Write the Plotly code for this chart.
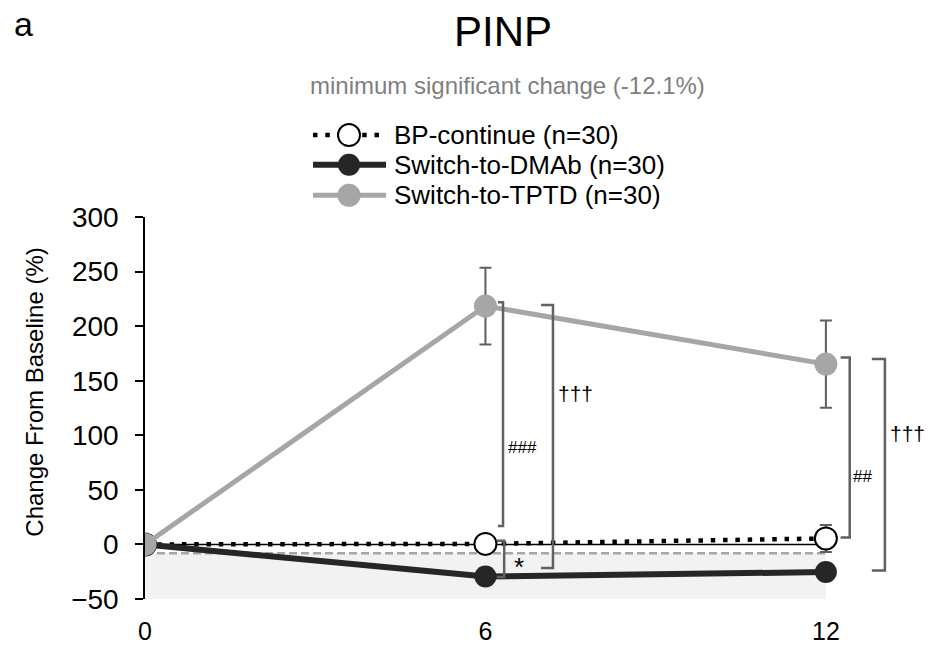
import plotly.graph_objects as go

# ---------------- data ----------------
months = [0, 6, 12]
month_labels = ["0", "6", "12"]

series_names = ["BP-continue (n=30)", "Switch-to-DMAb (n=30)", "Switch-to-TPTD (n=30)"]
bp_continue = [0, 0.5, 5.5]
bp_continue_err = [0, 4, 12.4]
switch_dmab = [0, -29.4, -25.3]
switch_tptd = [0, 218.4, 165.2]
switch_tptd_err = [0, 35.2, 40.0]

msc_label = -12.1          # value quoted in subtitle
msc_drawn = -8             # where the dashed line / shading is drawn in the picture
y_ticks = [-50, 0, 50, 100, 150, 200, 250, 300]

# significance brackets: (x of vertical, x of tick ends, y top, y bottom, label, label x, label y, font size)
brackets = [
    (6.31, 6.22, 221.9, 16.9, "###", 6.66, 89, 17),
    (7.19, 6.98, 219.4, -21.7, "†††", 7.58, 138, 21),
    (6.33, 6.20, 3.3, -29.8, "*", 6.60, -21, 26),
    (12.42, 12.26, 171.2, 6.3, "##", 12.65, 62, 17),
    (13.04, 12.81, 170.0, -23.8, "†††", 13.43, 102, 21),
]

# ---------------- layout geometry ----------------
W, H = 928, 657
L, R, T, B = 145, 17, 217, 53
PW, PH = W - L - R, H - T - B
FONT = "Liberation Sans, Arial, sans-serif"

def xp(px):
    return (px - L) / PW

def yp(py):
    return (H - B - py) / PH

styles = [
    dict(line=dict(color="black", width=4.5, dash="4.5px,7.8px"),
         marker=dict(color="white", size=22, line=dict(color="black", width=2))),
    dict(line=dict(color="#262626", width=6),
         marker=dict(color="#262626", size=22, line=dict(color="#262626", width=0))),
    dict(line=dict(color="#a6a6a6", width=5),
         marker=dict(color="#a6a6a6", size=23, line=dict(color="#a6a6a6", width=0))),
]
err_style = dict(type="data", color="#5f5f5f", thickness=2, width=6)

fig = go.Figure()
fig.add_trace(go.Scatter(x=months, y=bp_continue, mode="lines+markers", name=series_names[0],
                         line=styles[0]["line"], marker=styles[0]["marker"],
                         error_y=dict(array=bp_continue_err, **err_style), showlegend=False))
fig.add_trace(go.Scatter(x=months, y=switch_dmab, mode="lines+markers", name=series_names[1],
                         line=styles[1]["line"], marker=styles[1]["marker"], showlegend=False))
fig.add_trace(go.Scatter(x=months, y=switch_tptd, mode="lines+markers", name=series_names[2],
                         line=styles[2]["line"], marker=styles[2]["marker"],
                         error_y=dict(array=switch_tptd_err, **err_style), showlegend=False))

shapes = []
# shaded area below minimum significant change
shapes.append(dict(type="rect", xref="x", yref="y", x0=months[0], x1=months[-1], y0=y_ticks[0], y1=msc_drawn,
                   fillcolor="#f2f2f2", line=dict(width=0), layer="below"))
shapes.append(dict(type="line", xref="x", yref="y", x0=months[0], x1=months[-1], y0=msc_drawn, y1=msc_drawn,
                   line=dict(color="#a6a6a6", width=2.5, dash="8px,4px"), layer="below"))
# category axis crossing at 0
shapes.append(dict(type="line", xref="x", yref="y", x0=months[0], x1=months[-1], y0=0, y1=0,
                   line=dict(color="black", width=1.5), layer="below"))

annotations = []
for xv, xt, yt, yb, lab, lx, ly, fs in brackets:
    shapes.append(dict(type="path", xref="x", yref="y",
                       path=f"M {xt},{yt} L {xv},{yt} L {xv},{yb} L {xt},{yb}",
                       line=dict(color="#616161", width=2.5)))
    annotations.append(dict(x=lx, y=ly, xref="x", yref="y", text=lab, showarrow=False,
                            font=dict(family=FONT, size=fs, color="black"),
                            xanchor="center", yanchor="middle"))

# manual legend
leg_rows = [134, 164, 195]
for i, name in enumerate(series_names):
    st = styles[i]
    y0 = yp(leg_rows[i])
    shapes.append(dict(type="line", xref="paper", yref="paper", x0=xp(313), x1=xp(386), y0=y0, y1=y0,
                       line=dict(color=st["line"]["color"], width=st["line"]["width"],
                                 dash=st["line"].get("dash", "solid"))))
    r = st["marker"]["size"] / 2
    shapes.append(dict(type="circle", xref="paper", yref="paper", xsizemode="pixel", ysizemode="pixel",
                       xanchor=xp(349), yanchor=y0, x0=-r, x1=r, y0=-r, y1=r,
                       fillcolor=st["marker"]["color"],
                       line=dict(color=st["marker"]["line"]["color"],
                                 width=max(st["marker"]["line"]["width"], 0.1))))
    annotations.append(dict(x=xp(392), y=y0, xref="paper", yref="paper", text=name, showarrow=False,
                            font=dict(family=FONT, size=26, color="black"),
                            xanchor="left", yanchor="middle"))

# titles
annotations.append(dict(x=xp(24), y=yp(21), xref="paper", yref="paper", text="a", showarrow=False,
                        font=dict(family=FONT, size=34, color="black"), xanchor="center", yanchor="middle"))
annotations.append(dict(x=xp(503), y=yp(29), xref="paper", yref="paper", text="PINP", showarrow=False,
                        font=dict(family=FONT, size=42, color="black"), xanchor="center", yanchor="middle"))
annotations.append(dict(x=xp(507), y=yp(84), xref="paper", yref="paper",
                        text=f"minimum significant change ({msc_label}%)", showarrow=False,
                        font=dict(family=FONT, size=24, color="#7f7f7f"), xanchor="center", yanchor="middle"))
annotations.append(dict(x=xp(35), y=yp(395), xref="paper", yref="paper", text="Change From Baseline (%)",
                        showarrow=False, textangle=-90,
                        font=dict(family=FONT, size=24, color="black"), xanchor="center", yanchor="middle"))

fig.update_layout(
    width=W, height=H,
    margin=dict(l=L, r=R, t=T, b=B, pad=0),
    paper_bgcolor="white", plot_bgcolor="white",
    showlegend=False,
    shapes=shapes, annotations=annotations,
    font=dict(family=FONT, color="black"),
    xaxis=dict(range=[0, 13.5], tickvals=months, ticktext=month_labels, showline=False, zeroline=False,
               showgrid=False, ticks="", tickfont=dict(size=25, color="black"), ticklabelstandoff=15,
               fixedrange=True),
    yaxis=dict(range=[y_ticks[0], y_ticks[-1]], tickvals=y_ticks, showline=True, linecolor="black",
               linewidth=1.5, ticks="outside", ticklen=8, tickwidth=1.5, tickcolor="black",
               showgrid=False, zeroline=False, tickfont=dict(size=28, color="black"),
               ticklabelstandoff=11, fixedrange=True),
)

# remove the browser's default page margin so the figure fills the window exactly
fig.write_html("out.html", config={"displayModeBar": False},
               post_script="document.body.style.margin='0px';")
